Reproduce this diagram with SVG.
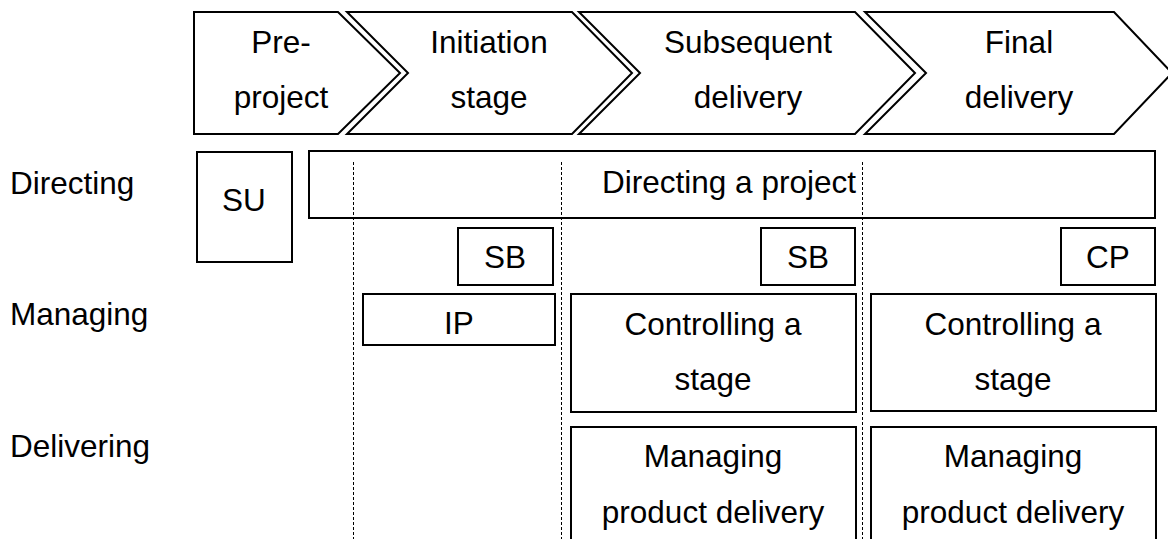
<svg xmlns="http://www.w3.org/2000/svg" width="1168" height="539" viewBox="0 0 1168 539">
<style>
  .box { fill: #ffffff; stroke: #000000; stroke-width: 2; }
  .chev { fill: #ffffff; stroke: #000000; stroke-width: 2; stroke-linejoin: miter; }
  .guide { stroke: #000000; stroke-width: 1; stroke-dasharray: 3 2; fill: none; }
  text { font-family: "Liberation Sans", Arial, sans-serif; font-size: 31.5px; fill: #000000; }
  .c { text-anchor: middle; }
</style>
<rect x="0" y="0" width="1168" height="539" fill="#ffffff"/>

<g id="phase-preproject">
  <path class="chev" d="M194,12 H338 L400,73 L338,134 H194 Z"/>
  <text class="c" x="281" y="53">Pre-</text>
  <text class="c" x="281" y="108">project</text>
</g>
<g id="phase-initiation">
  <path class="chev" d="M347,12 H572 L632,73 L572,134 H347 L408,73 Z"/>
  <text class="c" x="489" y="53">Initiation</text>
  <text class="c" x="489" y="108">stage</text>
</g>
<g id="phase-subsequent">
  <path class="chev" d="M579,12 H855 L915,73 L855,134 H579 L640,73 Z"/>
  <text class="c" x="748" y="53">Subsequent</text>
  <text class="c" x="748" y="108">delivery</text>
</g>
<g id="phase-final">
  <path class="chev" d="M865,12 H1114 L1172,73 L1114,134 H865 L926,73 Z"/>
  <text class="c" x="1019" y="53">Final</text>
  <text class="c" x="1019" y="108">delivery</text>
</g>

<g id="label-directing"><text x="10" y="194">Directing</text></g>
<g id="label-managing"><text x="10" y="325">Managing</text></g>
<g id="label-delivering"><text x="10" y="457">Delivering</text></g>

<g id="su">
  <rect class="box" x="197" y="152" width="95" height="110"/>
  <text class="c" x="244" y="211">SU</text>
</g>
<g id="directing-project">
  <rect class="box" x="309" y="151" width="846" height="67"/>
  <text class="c" x="729" y="193">Directing a project</text>
</g>
<g id="sb1">
  <rect class="box" x="458" y="228" width="95" height="57"/>
  <text class="c" x="505" y="268">SB</text>
</g>
<g id="sb2">
  <rect class="box" x="761" y="228" width="94" height="57"/>
  <text class="c" x="808" y="268">SB</text>
</g>
<g id="cp">
  <rect class="box" x="1061" y="228" width="94" height="57"/>
  <text class="c" x="1108" y="268">CP</text>
</g>
<g id="ip">
  <rect class="box" x="363" y="294" width="192" height="51"/>
  <text class="c" x="459" y="334">IP</text>
</g>
<g id="controlling-1">
  <rect class="box" x="571" y="294" width="285" height="118"/>
  <text class="c" x="713" y="335">Controlling a</text>
  <text class="c" x="713" y="390">stage</text>
</g>
<g id="controlling-2">
  <rect class="box" x="871" y="294" width="285" height="117"/>
  <text class="c" x="1013" y="335">Controlling a</text>
  <text class="c" x="1013" y="390">stage</text>
</g>
<g id="mpd-1">
  <rect class="box" x="571" y="427" width="285" height="130"/>
  <text class="c" x="713" y="467">Managing</text>
  <text class="c" x="713" y="523">product delivery</text>
</g>
<g id="mpd-2">
  <rect class="box" x="871" y="427" width="285" height="130"/>
  <text class="c" x="1013" y="467">Managing</text>
  <text class="c" x="1013" y="523">product delivery</text>
</g>

<g id="connectors">
  <line class="guide" x1="353.5" y1="162" x2="353.5" y2="539"/>
  <line class="guide" x1="561.5" y1="162" x2="561.5" y2="539"/>
  <line class="guide" x1="862.5" y1="162" x2="862.5" y2="539"/>
</g>
</svg>
